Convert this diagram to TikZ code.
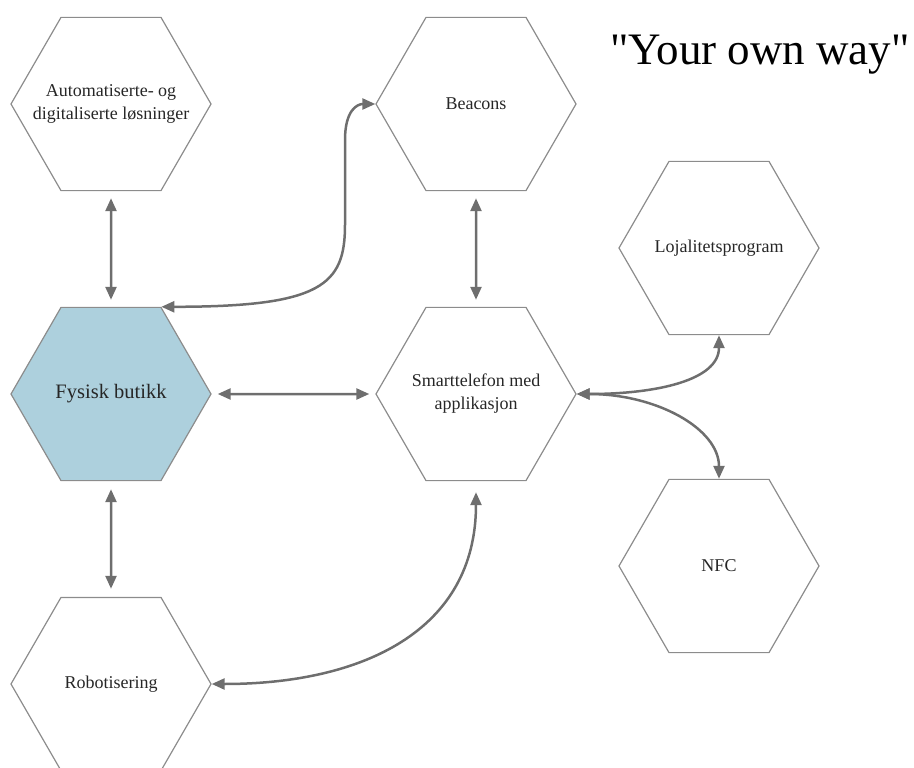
\documentclass[tikz,border=0pt]{standalone}
\usepackage{fontspec}
\setmainfont[Ligatures=TeXOff]{Liberation Serif}
\usetikzlibrary{shapes.geometric,arrows.meta}
\definecolor{hexline}{RGB}{140,140,140}
\definecolor{arrowgray}{RGB}{110,110,110}
\definecolor{storeblue}{RGB}{173,208,221}

\begin{document}
\begin{tikzpicture}[x=1pt,y=-1pt,
  hexa/.style={regular polygon,regular polygon sides=6,minimum size=200pt,inner sep=-30pt,draw=hexline,line width=1.2pt,align=center,text=black!85,font=\fontsize{18}{23}\selectfont},
  conn/.style={arrowgray,line width=2.5pt,{Triangle[length=13pt,width=11pt]}-{Triangle[length=13pt,width=11pt]}},
  gap/.style={shorten <=#1,shorten >=#1}]
\useasboundingbox (0,0) rectangle (914,768);
\node[hexa] (auto) at (111,104) {Automatiserte- og\\digitaliserte løsninger};
\node[hexa,fill=storeblue,font=\fontsize{20.5}{24}\selectfont] (fysisk) at (111,394) {Fysisk butikk};
\node[hexa] (robot) at (111,684) {Robotisering};
\node[hexa] (beacons) at (476,104) {Beacons};
\node[hexa] (smart) at (476,394) {Smarttelefon med\\applikasjon};
\node[hexa] (lojal) at (719,248) {Lojalitetsprogram};
\node[hexa] (nfc) at (719,566) {NFC};
\node[anchor=base,font=\fontsize{45}{50}\selectfont] (title) at (760,65) {"Your own way"};
\draw[conn,gap=7pt] (auto) -- (fysisk);
\draw[conn,gap=8pt] (fysisk) -- (robot);
\draw[conn,gap=6pt] (fysisk) -- (smart);
\draw[conn,gap=7pt] (beacons) -- (smart);
\draw[conn] (fysisk.60) .. controls +(160,0) and +(0,60) .. (345,225) -- (345,140) .. controls +(0,-30) and +(-18,0) .. (beacons.180);
\draw[conn,shorten <=11pt] (smart.-90) .. controls +(0,150) and +(150,0) .. (robot.0);
\draw[conn] (smart.0) .. controls +(80,0) and +(0,45) .. (lojal.-90);
\draw[conn] (smart.0) .. controls +(80,0) and +(0,-50) .. (nfc.90);
\end{tikzpicture}
\end{document}
